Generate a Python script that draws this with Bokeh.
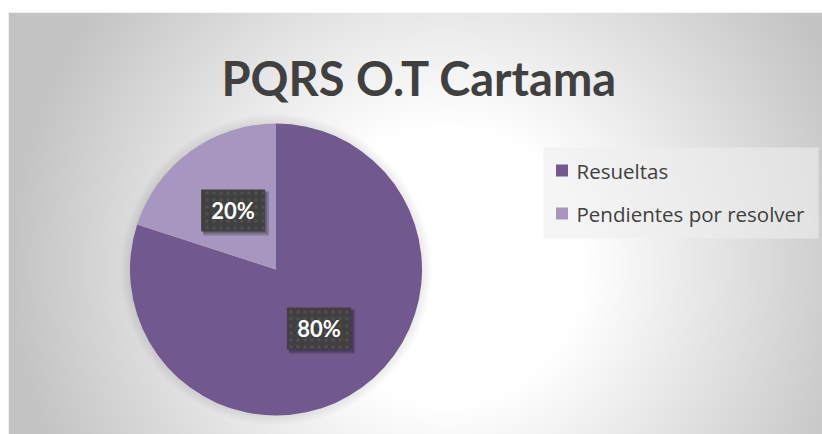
import numpy as np
from bokeh.plotting import figure
from bokeh.models import Range1d, ColumnDataSource
from bokeh.core.properties import value
from bokeh.embed import file_html
from bokeh.resources import INLINE

# ---- data ----
title_text = "PQRS O.T Cartama"
categories = ["Resueltas", "Pendientes por resolver"]
values = [80, 20]
colors = ["#71588f", "#a796bf"]

# ---- canvas (data units == pixels of the plot frame) ----
W, H = 814, 422
p = figure(width=822, height=434, output_backend="svg", toolbar_location=None,
           x_range=Range1d(0, W), y_range=Range1d(0, H),
           min_border_left=8, min_border_right=0, min_border_bottom=0,
           min_border_top=12, border_fill_color="white", outline_line_color=None)
p.axis.visible = False
p.grid.visible = False

def px(x):
    return x - 8

def py(y):
    return 434 - y

# radial gradient background
xs = np.arange(W) + 8.5
ys = 434 - (np.arange(H) + 0.5)
X, Y = np.meshgrid(xs, ys)
d = np.hypot(X - 445, Y - 265)
g = np.clip(255 - 0.2 * (d - 140), 196, 255).astype(np.uint8)
img = np.empty((H, W), dtype=np.uint32)
view = img.view(dtype=np.uint8).reshape((H, W, 4))
view[..., 0] = g
view[..., 1] = g
view[..., 2] = g
view[..., 3] = 255
p.image_rgba(image=[img], x=0, y=0, dw=W, dh=H)

# title
p.text(x=[px(419)], y=[py(77)], text=[title_text], text_font=value("Lato"),
       text_font_style="bold", text_font_size="47px", text_color="#404040",
       text_align="center", text_baseline="alphabetic")

# pie
cx, cy, r = px(275.5), py(269), 146
total = float(sum(values))
starts, ends, mids = [], [], []
a = np.pi / 2
for v in values:
    e = a - 2 * np.pi * v / total
    starts.append(a)
    ends.append(e)
    mids.append((a + e) / 2)
    a = e

# soft halo
for k in range(1, 11):
    p.circle(x=[cx], y=[cy], radius=r + k, fill_color="black", fill_alpha=0.006,
             line_color=None)

src = ColumnDataSource(dict(start=starts, end=ends, color=colors, cat=categories))
p.wedge(x=cx, y=cy, radius=r, start_angle="start", end_angle="end",
        direction="clock", fill_color="color", line_color=None, source=src)

# data labels
lx = [cx + 0.5 * r * np.cos(m) for m in mids]
ly = [cy + 0.5 * r * np.sin(m) for m in mids]
labels = [f"{round(100 * v / total)}%" for v in values]
p.rect(x=[x + 3 for x in lx], y=[y - 3 for y in ly], width=66, height=44,
       fill_color="black", fill_alpha=0.2, line_color=None)
p.rect(x=[x + 2 for x in lx], y=[y - 2 for y in ly], width=64, height=42,
       fill_color="black", fill_alpha=0.2, line_color=None)
p.rect(x=lx, y=ly, width=64, height=42, fill_color="#404040", line_color=None,
       hatch_pattern="dot", hatch_color="#565656", hatch_alpha=0.7, hatch_scale=7)
p.text(x=lx, y=ly, text=labels, text_font=value("Lato"), text_font_style="bold",
       text_font_size="22px", text_color="white", text_align="center",
       text_baseline="middle")

# legend
p.rect(x=[px(680.5)], y=[py(192.5)], width=275, height=91, fill_color="#efefef",
       fill_alpha=0.6, line_color=None)
leg_y = [py(170), py(213)]
p.rect(x=[px(561.5)] * 2, y=leg_y, width=12, height=12, fill_color=colors,
       line_color=None)
p.text(x=[px(576)] * 2, y=leg_y, text=categories, text_font=value("Open Sans"),
       text_font_size="20.5px", text_color="#404040", text_align="left",
       text_baseline="middle")

open("out.html", "w").write(file_html(p, INLINE))
